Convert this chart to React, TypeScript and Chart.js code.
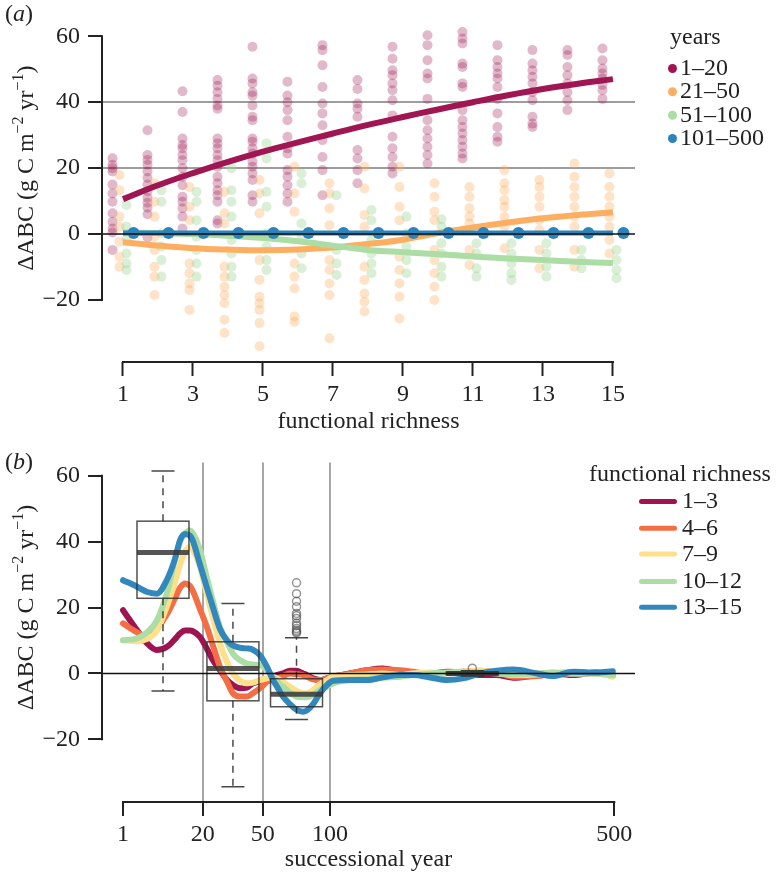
import React, { useEffect, useRef } from 'react';
import { Chart, registerables } from 'chart.js';
Chart.register(...registerables);

const FONT = '"Liberation Serif", "Times New Roman", Times, serif';
const INK = '#222222';

// ---------- Panel (a) data ----------
const richness = [1, 2, 3, 4, 5, 6, 7, 8, 9, 10, 11, 12, 13, 14, 15];
const richTicks = [1, 3, 5, 7, 9, 11, 13, 15];
const yTicks = [-20, 0, 20, 40, 60];
const yearClasses = ['1–20', '21–50', '51–100', '101–500'];

const pts1to20: number[][] = [
  [23, 21, 20, 19, 15, 12.3, 9.8, 6.3, 3.7, 1.7, 0.5, -4.8],
  [31.5, 24, 22.5, 21, 19, 17, 15, 13, 11, 9.5, 8, 6, -1],
  [43.3, 37, 29, 27, 26, 24, 22.4, 20, 17.4, 14.8, 11.3, 9.8, 7.8, 5.3, 1.7],
  [46.7, 45, 43, 41, 39, 38, 29, 27.5, 26, 24, 22.4, 20.4, 17.4, 15.4, 13.3, 11.8, 9.8, 4.2, 3.2],
  [56.8, 47.2, 45.7, 43, 42, 39, 35.6, 34.5, 29, 28, 26, 24.4, 22, 20.4, 18.4, 16.4, 11.8, 9.8],
  [46.2, 42, 40, 37.6, 34.5, 29.5, 26, 24.4, 19.4, 17.4, 14.8, 12.3, 9.8],
  [57.3, 55.8, 51.2, 44.6, 39.6, 36.6, 33, 28.5, 23.4, 19.4, 11.8],
  [46.7, 44, 39.6, 38, 35.6, 25.5, 22.9, 19.4, 15.4],
  [56.8, 53.2, 49.7, 48.2, 45.7, 43.6, 40.6, 36, 29.5, 26, 23.4, 20.4, 18.4],
  [60.3, 57.3, 52.7, 48.7, 47.2, 41, 34.5, 31.5, 29, 26.5, 24, 21.4],
  [61.3, 59.3, 57.8, 51.7, 50.7, 45.7, 44.6, 37.6, 34.5, 32.5, 30.5, 28.5, 26.5, 24.4, 22.9],
  [57.3, 52.7, 50.7, 48.7, 47.2, 44.6, 41, 36.6, 32.5, 29.5, 28],
  [55.8, 51.7, 49.7, 47.7, 45.7, 43, 40.6, 35.6, 33.5, 32.5],
  [55.8, 54.3, 50.7, 48.2, 45.7, 43, 40.6, 37.6],
  [56.3, 52.7, 50.2, 48.7, 47.2, 45.2, 43.6, 41],
];
const pts21to50: number[][] = [
  [17.9, 13.3, 5.3, 2.2, -2.3, -6.9, -9.9],
  [15.4, 9.8, 5.3, -0.8, -4.8, -9.9, -12.9, -18.5],
  [14.3, 8.3, 4.2, -8.9, -11.9, -15, -17, -23],
  [12.8, 6.3, 3.2, -9.9, -12.9, -16, -18.5, -21, -26, -30],
  [16.4, 12.3, 6.3, -7.9, -13.9, -19, -21, -23, -27, -34],
  [20.4, 12.3, 6.8, -8.9, -12.9, -16.5, -25, -26.6],
  [15.4, 12.3, 7.8, 2.7, -7.9, -10.9, -15, -18.5, -31.6],
  [20.4, 13.8, 5.8, 2.2, -9.9, -13.9, -18, -20.5, -23.5],
  [20.4, 14.3, 8.3, 4.2, -6.9, -10.9, -15, -19, -25.6],
  [15.4, 11.3, 6.8, 4.2, -4.8, -7.9, -11.9, -16, -20],
  [14.3, 11.3, 7.8, 5.3, 3.2, -4.8, -9.4],
  [19.4, 15.4, 13.3, 10.3, 8.3, 5.3, 2.2, -4.3],
  [16.4, 14.3, 11.3, 8.3, 4.2, 1.2, -4.8, -10.4],
  [21.4, 17.4, 14.3, 11.3, 8.3, 5.3, 2.2, -4.8, -9.9],
  [18.4, 14.3, 11.3, 8.3, 5.3, 2.2, -1.8, -5.9],
];
const pts51to100: number[][] = [
  [8.8, 2.2, -1.8, -5.9, -8.9, -10.9],
  [13.3, 9.8, 0.2, -3.8, -7.9, -12.9],
  [12.8, 9.8, 4.2, -0.8, -4.8, -8.9, -12.9],
  [20, 13.3, 9.8, 5.3, -1.8, -5.9, -9.9, -12.9],
  [27.5, 22.9, 12.8, 8.3, 0.2, -3.8, -7.9, -10.9],
  [18.4, 15.4, 3.2, -0.8, -5.9, -10.4],
  [11.8, -4.8, -8.9, -12.4],
  [7.3, 4.2, -1.8, -5.9, -8.9, -11.9],
  [5.3, 0.2, -3.8, -7.9, -11.9],
  [4.5, 2.2, -2.8, -5.9, -9.9, -12.9],
  [-2.8, -5.9, -10.4, -12.9],
  [-2.8, -5.9, -8.9, -11.9, -13.9],
  [-2.8, -5.9, -9.9, -12.9],
  [-4.8, -7.9, -10.4],
  [-4.8, -7.9, -10.9, -13.4],
];
const pts101to500 = [0.3, 0.3, 0.3, 0.3, 0.3, 0.3, 0.3, 0.3, 0.3, 0.3, 0.3, 0.3, 0.3, 0.3, 0.3];

const fit1to20 = [10.6, 14.8, 18.5, 21.9, 25, 27.8, 30.5, 33.1, 35.5, 37.8, 40, 42.1, 44, 45.6, 47];
const fit21to50 = [-2.5, -3.5, -4.3, -4.7, -4.9, -4.7, -4.1, -3, -1.7, 0.3, 2, 3.5, 4.8, 5.8, 6.6];
const fit51to100 = [0.5, 0.3, 0, -0.5, -1.2, -2.2, -3.5, -4.8, -5.5, -6.1, -6.8, -7.4, -7.9, -8.4, -8.8];
const fit101to500 = [0.3, 0.3, 0.3, 0.3, 0.3, 0.3, 0.3, 0.3, 0.3, 0.3, 0.3, 0.3, 0.3, 0.3, 0.3];

// ---------- Panel (b) data ----------
const yearTicks = [1, 20, 50, 100, 500];
const yearBreaks = [20, 50, 100];
const richClasses = ['1–3', '4–6', '7–9', '10–12', '13–15'];
const successionYears = [1, 2.6, 4.2, 6.1, 8.5, 10.7, 12.1, 13.7, 15.3, 16.3, 18.9, 21.6, 24.1, 27.2, 30.5,
  33.4, 37.1, 40.8, 44.2, 48.4, 52.7, 56.6, 59.2, 63.3, 68.2, 72.9, 77.9, 81, 85.8, 91.5, 97.4, 102.6,
  118, 135, 151, 170, 185, 206, 228, 249, 273, 297, 323, 361, 388, 423, 467, 497];
const smooth1to3 = [19.2, 13.1, 9.1, 7.1, 8.1, 10.5, 12.1, 13, 13, 12.8, 11.1, 7.5, 4, 1, -2,
  -3.5, -4.5, -4.3, -3, -2.5, -2, -1, -0.5, 0, 0.8, 0.8, 0, -0.5, -1.5, -2, -1.5, -1,
  0, 1, 1.5, 0.5, 0, 0, 0.5, 0.3, -0.5, -0.5, -1.3, -0.5, 0, -0.5, 0.3, -0.8];
const smooth4to6 = [15.2, 12.5, 11, 13.5, 18, 23, 26, 27.3, 26.5, 25, 19.5, 14.1, 8.5, 2, -2.5,
  -6, -7, -7, -6, -4.5, -2.5, -1.8, -1.5, -0.8, 0, -0.2, -0.5, -1, -1.8, -2, -1.5, -1,
  0, 1, 1.2, 1, 0.5, 0, 0.3, 0.5, 0.8, 0.3, -1, -0.8, 0, 0.3, 0, -0.5];
const smooth7to9 = [10.1, 9.8, 10.5, 13, 20.5, 28, 33, 37, 38.4, 37.5, 32.3, 24, 17, 9, 3.5,
  0, -2.2, -3, -2.8, -2, -1.5, -1, -1.5, -2.5, -4, -5.2, -6, -6, -5, -3.2, -2, -1,
  -0.5, -0.3, 0, -0.5, 0, 0.3, 0, 0.5, 0.8, 0.3, -0.5, -0.3, 0.3, 0, 0, -1];
const smooth10to12 = [10.1, 10.6, 12.5, 16, 24.5, 35, 40, 42.5, 43.4, 42.5, 37.4, 29, 22, 14.1, 9.5,
  6, 4, 3, 2.7, 2.5, 1, -1, -2.5, -4, -5.8, -7, -7.2, -7.2, -6.5, -5, -4, -3,
  -2, -1.8, -1.3, -1, -0.5, 0, 0.3, 0.5, 0.3, 0, -0.3, 0, 0.3, 0, 0, -0.5];
const smooth13to15 = [28.3, 26.3, 24.7, 24.2, 28.5, 35, 40.4, 42.3, 41.8, 40.2, 33, 26, 20, 13.5, 10,
  8.5, 7.8, 7.6, 7.2, 5.5, 2, -2, -4, -7, -9.3, -11, -11.6, -11.2, -9.3, -6, -3.5, -2.2,
  -2, -2, -1.2, -0.5, -0.5, -1.2, -2, -1.5, 0, 0.8, 1.2, 0, -0.8, 0.5, 0.3, 0.7];

const boxCenters = [7.5, 33.4, 73, 262];
const boxLow = [-5.3, -34.4, -14, -0.8];
const boxQ1 = [22.8, -8.3, -10.1, -0.4];
const boxMedian = [36.7, 1.5, -6.3, 0];
const boxQ3 = [46.2, 9.6, -1.6, 0.4];
const boxHigh = [61.4, 21.2, 10.8, 0.8];
const outlierYears = [73, 73, 73, 73, 73, 73, 73, 73, 73, 73, 73, 73, 73, 262];
const outlierValues = [12.3, 12.6, 13, 13.6, 14.5, 15.2, 16.7, 17.5, 18.2, 20.2, 21.9, 24.2, 27.5, 1.6];

// ---------- styling ----------
const colA = ['rgb(160,22,82)', 'rgb(253,174,97)', 'rgb(171,221,164)', 'rgb(43,131,186)'];
const colAdot = ['rgba(160,22,82,0.3)', 'rgba(253,174,97,0.35)', 'rgba(160,215,152,0.4)', 'rgb(43,131,186)'];
const colB = ['rgb(158,20,80)', 'rgb(244,109,67)', 'rgb(254,224,139)', 'rgb(171,221,164)', 'rgb(50,136,189)'];
const DODGE = [-0.3, -0.1, 0.1, 0.3];
const sq = (v: number) => Math.sqrt(v);

type Part = { t: string; font: string; dy: number };
function drawParts(ctx: CanvasRenderingContext2D, parts: Part[], x: number, y: number, center: boolean) {
  const widths = parts.map((p) => { ctx.font = p.font; return ctx.measureText(p.t).width; });
  const total = widths.reduce((a, b) => a + b, 0);
  let cx = center ? x - total / 2 : x;
  ctx.textBaseline = 'alphabetic';
  ctx.textAlign = 'left';
  parts.forEach((p, i) => { ctx.font = p.font; ctx.fillText(p.t, cx, y + p.dy); cx += widths[i]; });
}
const BIG = `24px ${FONT}`;
const SMALL = `16px ${FONT}`;
const ITAL = `italic 24px ${FONT}`;
const yTitleParts: Part[] = [
  { t: 'ΔABC (g C m', font: BIG, dy: 0 },
  { t: '−2', font: SMALL, dy: -10 },
  { t: ' yr', font: BIG, dy: 0 },
  { t: '−1', font: SMALL, dy: -10 },
  { t: ')', font: BIG, dy: 0 },
];

function drawYTitle(chart: any) {
  const { ctx, scales: { y } } = chart;
  const cy = (y.getPixelForValue(yTicks[0]) + y.getPixelForValue(yTicks[yTicks.length - 1])) / 2;
  ctx.save();
  ctx.fillStyle = INK;
  ctx.translate(33, cy);
  ctx.rotate(-Math.PI / 2);
  drawParts(ctx, yTitleParts, 0, 0, true);
  ctx.restore();
}

function drawAxes(chart: any, xFirst: number, xLast: number) {
  const { ctx, chartArea, scales: { x, y } } = chart;
  ctx.save();
  ctx.strokeStyle = INK;
  ctx.lineWidth = 2;
  ctx.lineCap = 'square';
  ctx.beginPath();
  ctx.moveTo(chartArea.left, y.getPixelForValue(yTicks[yTicks.length - 1]));
  ctx.lineTo(chartArea.left, y.getPixelForValue(yTicks[0]));
  ctx.stroke();
  ctx.beginPath();
  ctx.moveTo(x.getPixelForValue(xFirst), chartArea.bottom);
  ctx.lineTo(x.getPixelForValue(xLast), chartArea.bottom);
  ctx.stroke();
  ctx.restore();
}

function zeroLine(chart: any) {
  const { ctx, chartArea, scales: { y } } = chart;
  const y0 = y.getPixelForValue(0);
  ctx.save();
  ctx.strokeStyle = '#111';
  ctx.lineWidth = 1.6;
  ctx.beginPath();
  ctx.moveTo(chartArea.left, y0);
  ctx.lineTo(chartArea.right, y0);
  ctx.stroke();
  ctx.restore();
}

const negFmt = (v: number) => (v < 0 ? '−' + Math.abs(v) : String(v));

function yScale(min: number, max: number) {
  return {
    type: 'linear',
    min, max,
    afterBuildTicks: (s: any) => { s.ticks = yTicks.map((v) => ({ value: v })); },
    afterFit: (s: any) => { s.width = 102; },
    ticks: { font: { family: FONT, size: 24 }, color: INK, padding: 8, callback: (v: any) => negFmt(Number(v)) },
    grid: {
      drawOnChartArea: true,
      color: (c: any) => (c.tick && (c.tick.value === 20 || c.tick.value === 40) && min > -38.9 ? 'rgba(140,140,140,0.85)' : 'rgba(0,0,0,0)'),
      lineWidth: 2,
      tickLength: 14,
      tickColor: INK,
      tickWidth: 2,
    },
    border: { display: false },
  };
}

function configA(): any {
  const colPts = (cols: number[][], dx: number) => cols.flatMap((col, i) => col.map((v) => ({ x: richness[i] + dx, y: v })));
  const lineDs = (vals: number[], k: number, order: number, w = 6) => ({
    type: 'scatter',
    data: richness.map((n, i) => ({ x: n, y: vals[i] })),
    showLine: true, borderColor: colA[k], borderWidth: w, pointRadius: 0, tension: 0.4, fill: false, order,
    borderCapStyle: 'butt',
  });
  const dotDs = (cols: number[][], k: number, order: number) => ({
    type: 'scatter', data: colPts(cols, DODGE[k]), pointRadius: 5, pointBorderWidth: 0,
    backgroundColor: colAdot[k], pointBackgroundColor: colAdot[k], borderColor: 'rgba(0,0,0,0)', order,
  });
  return {
    type: 'scatter',
    data: {
      datasets: [
        dotDs(pts1to20, 0, 10),
        dotDs(pts21to50, 1, 9),
        dotDs(pts51to100, 2, 8),
        lineDs(fit1to20, 0, 7),
        lineDs(fit21to50, 1, 6),
        lineDs(fit51to100, 2, 5),
        lineDs(fit101to500, 3, 4, 5),
        {
          type: 'scatter', data: richness.map((n, i) => ({ x: n + DODGE[3], y: pts101to500[i] })),
          pointRadius: 6, pointBorderWidth: 0, backgroundColor: colA[3], pointBackgroundColor: colA[3], order: 3,
        },
      ],
    },
    options: {
      responsive: false, animation: false, devicePixelRatio: 1, events: [],
      layout: { padding: { top: 22, right: 143, left: 0, bottom: 0 } },
      plugins: { legend: { display: false }, tooltip: { enabled: false } },
      scales: {
        x: {
          type: 'linear', min: 0.4, max: 15.63,
          afterBuildTicks: (s: any) => { s.ticks = richTicks.map((v) => ({ value: v })); },
          afterFit: (s: any) => { s.height = 78; },
          ticks: { font: { family: FONT, size: 24 }, color: INK, padding: 4, autoSkip: false, maxRotation: 0, callback: (v: any) => String(v) },
          grid: { drawOnChartArea: false, tickLength: 14, tickColor: INK, tickWidth: 2, color: 'rgba(0,0,0,0)' },
          border: { display: false },
          title: { display: true, text: 'functional richness', font: { family: FONT, size: 24 }, color: INK, padding: { top: 0, bottom: 4 } },
        },
        y: yScale(-38.8, 64.2),
      },
    },
    plugins: [{
      id: 'panelA',
      afterDatasetsDraw(chart: any) { zeroLine(chart); },
      afterDraw(chart: any) {
        const { ctx } = chart;
        drawAxes(chart, richTicks[0], richTicks[richTicks.length - 1]);
        drawYTitle(chart);
        ctx.save();
        ctx.fillStyle = INK;
        drawParts(ctx, [{ t: '(', font: BIG, dy: 0 }, { t: 'a', font: ITAL, dy: 0 }, { t: ')', font: BIG, dy: 0 }], 5, 21, false);
        drawParts(ctx, [{ t: 'years', font: BIG, dy: 0 }], 670, 43.5, false);
        const rows = [75, 98.3, 121.7, 145];
        yearClasses.forEach((lab, k) => {
          ctx.fillStyle = colA[k];
          ctx.beginPath();
          ctx.arc(672.5, rows[k] - 6.5, 4.5, 0, Math.PI * 2);
          ctx.fill();
          ctx.fillStyle = INK;
          drawParts(ctx, [{ t: lab, font: BIG, dy: 0 }], 680, rows[k], false);
        });
        ctx.restore();
      },
    }],
  };
}

function configB(): any {
  const lines = [smooth1to3, smooth4to6, smooth7to9, smooth10to12, smooth13to15];
  const datasets: any[] = lines.map((vals, k) => ({
    type: 'scatter',
    data: successionYears.map((yr, i) => ({ x: sq(yr), y: vals[i] })),
    showLine: true, borderColor: colB[k], borderWidth: 6, pointRadius: 0,
    cubicInterpolationMode: 'monotone', fill: false, order: 10 - k, borderCapStyle: 'round',
  }));
  datasets.push({
    type: 'scatter',
    data: outlierYears.map((yr, i) => ({ x: sq(yr), y: outlierValues[i] })),
    pointRadius: 4, pointBorderWidth: 1.5, borderColor: 'rgba(80,80,80,0.6)', pointBorderColor: 'rgba(80,80,80,0.6)',
    backgroundColor: 'rgba(0,0,0,0)', pointBackgroundColor: 'rgba(0,0,0,0)', order: 1,
  });
  return {
    type: 'scatter',
    data: { datasets },
    options: {
      responsive: false, animation: false, devicePixelRatio: 1, events: [],
      layout: { padding: { top: 22, right: 143, left: 0, bottom: 0 } },
      plugins: { legend: { display: false }, tooltip: { enabled: false } },
      scales: {
        x: {
          type: 'linear', min: 0.087, max: 23.26,
          afterBuildTicks: (s: any) => { s.ticks = yearTicks.map((v) => ({ value: sq(v) })); },
          afterFit: (s: any) => { s.height = 76; },
          ticks: { font: { family: FONT, size: 24 }, color: INK, padding: 4, autoSkip: false, maxRotation: 0, callback: (_v: any, i: number) => String(yearTicks[i]) },
          grid: {
            drawOnChartArea: true,
            color: (c: any) => (c.tick && yearBreaks.includes(Math.round(c.tick.value * c.tick.value)) ? 'rgba(150,150,150,0.85)' : 'rgba(0,0,0,0)'),
            lineWidth: 2, tickLength: 14, tickColor: INK, tickWidth: 2,
          },
          border: { display: false },
          title: { display: true, text: 'successional year', font: { family: FONT, size: 24 }, color: INK, padding: { top: 0, bottom: 4 } },
        },
        y: yScale(-39.0, 64.03),
      },
    },
    plugins: [{
      id: 'panelB',
      afterDatasetsDraw(chart: any) {
        const { ctx, scales: { x, y } } = chart;
        ctx.save();
        boxCenters.forEach((yr, i) => {
          const c = x.getPixelForValue(sq(yr));
          const half = x.getPixelForValue(sq(yr) + 1.13) - c;
          const cap = x.getPixelForValue(sq(yr) + 0.5) - c;
          const pLow = y.getPixelForValue(boxLow[i]);
          const pQ1 = y.getPixelForValue(boxQ1[i]);
          const pMed = y.getPixelForValue(boxMedian[i]);
          const pQ3 = y.getPixelForValue(boxQ3[i]);
          const pHigh = y.getPixelForValue(boxHigh[i]);
          ctx.strokeStyle = 'rgba(40,40,40,0.85)';
          ctx.lineWidth = 1.5;
          ctx.setLineDash([7, 6]);
          ctx.beginPath();
          ctx.moveTo(c, pQ3); ctx.lineTo(c, pHigh);
          ctx.moveTo(c, pQ1); ctx.lineTo(c, pLow);
          ctx.stroke();
          ctx.setLineDash([]);
          ctx.beginPath();
          ctx.moveTo(c - cap, pHigh); ctx.lineTo(c + cap, pHigh);
          ctx.moveTo(c - cap, pLow); ctx.lineTo(c + cap, pLow);
          ctx.stroke();
          ctx.strokeStyle = 'rgba(50,50,50,0.85)';
          ctx.strokeRect(c - half, pQ3, half * 2, pQ1 - pQ3);
          ctx.strokeStyle = 'rgba(55,55,55,0.85)';
          ctx.lineWidth = 5;
          ctx.beginPath();
          ctx.moveTo(c - half, pMed); ctx.lineTo(c + half, pMed);
          ctx.stroke();
        });
        ctx.restore();
        zeroLine(chart);
      },
      afterDraw(chart: any) {
        const { ctx } = chart;
        drawAxes(chart, sq(yearTicks[0]), sq(yearTicks[yearTicks.length - 1]));
        drawYTitle(chart);
        ctx.save();
        ctx.fillStyle = INK;
        drawParts(ctx, [{ t: '(', font: BIG, dy: 0 }, { t: 'b', font: ITAL, dy: 0 }, { t: ')', font: BIG, dy: 0 }], 5, 29, false);
        drawParts(ctx, [{ t: 'functional richness', font: BIG, dy: 0 }], 589, 40.7, false);
        const rows = [68.3, 95, 120.7, 148.3, 174];
        richClasses.forEach((lab, k) => {
          ctx.strokeStyle = colB[k];
          ctx.lineWidth = 5;
          ctx.lineCap = 'round';
          ctx.beginPath();
          ctx.moveTo(641.5, rows[k] - 6.8);
          ctx.lineTo(674.5, rows[k] - 6.8);
          ctx.stroke();
          ctx.fillStyle = INK;
          drawParts(ctx, [{ t: lab, font: BIG, dy: 0 }], 682, rows[k], false);
        });
        ctx.restore();
      },
    }],
  };
}

export default function App() {
  const refA = useRef<HTMLCanvasElement>(null);
  const refB = useRef<HTMLCanvasElement>(null);
  useEffect(() => {
    const a = new Chart(refA.current as HTMLCanvasElement, configA());
    const b = new Chart(refB.current as HTMLCanvasElement, configB());
    return () => { a.destroy(); b.destroy(); };
  }, []);
  return (
    <div style={{ position: 'absolute', left: 0, top: 0, width: 778, height: 878, overflow: 'hidden', background: '#fff' }}>
      <canvas ref={refA} width={778} height={440} style={{ display: 'block', width: 778, height: 440 }} />
      <canvas ref={refB} width={778} height={438} style={{ display: 'block', width: 778, height: 438 }} />
    </div>
  );
}
